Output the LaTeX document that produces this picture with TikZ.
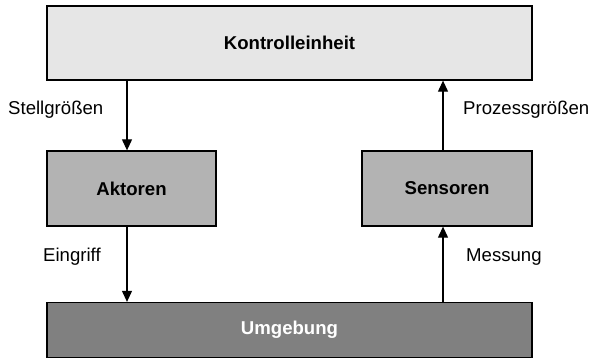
\documentclass[tikz,border=0pt]{standalone}
\usepackage{fontspec}
\setmainfont{Liberation Sans}
\usetikzlibrary{arrows.meta}
\definecolor{klight}{gray}{0.902}
\definecolor{kmid}{gray}{0.702}
\definecolor{kdark}{gray}{0.502}
\tikzset{
  box/.style={draw=black, line width=1.3pt, inner sep=0pt, font=\fontsize{18.6}{22}\selectfont\bfseries},
  lbl/.style={inner sep=0pt, anchor=west, font=\fontsize{18.6}{22}\selectfont},
  conn/.style={line width=1.1pt, -{Triangle[length=11pt,width=10pt]}},
}
\begin{document}
\begin{tikzpicture}[x=1pt,y=-1pt]
\useasboundingbox (0,0) rectangle (593,362);
\node[box, fill=klight, minimum width=485pt, minimum height=74pt] (K) at (289.5,43) {Kontrolleinheit};
\node[box, fill=kmid, minimum width=169pt, minimum height=75pt] (A) at (131.5,188.5) {Aktoren};
\node[box, fill=kmid, minimum width=170pt, minimum height=75pt] (S) at (447,188.5) {Sensoren};
\node[box, fill=kdark, text=white, minimum width=485pt, minimum height=55pt] (U) at (289.5,330) {Umgebung};
\coordinate (lx) at (127,0);
\coordinate (rx) at (443,0);
\draw[conn] (K.south -| lx) -- (A.north -| lx);
\draw[conn] (A.south -| lx) -- (U.north -| lx);
\draw[conn] (U.north -| rx) -- (S.south -| rx);
\draw[conn] (S.north -| rx) -- (K.south -| rx);
\node[lbl] (l1) at (8,110) {Stellgrößen};
\node[lbl] (l2) at (463,110) {Prozessgrößen};
\node[lbl] (l3) at (43,257) {Eingriff};
\node[lbl] (l4) at (466,257) {Messung};
\end{tikzpicture}
\end{document}
